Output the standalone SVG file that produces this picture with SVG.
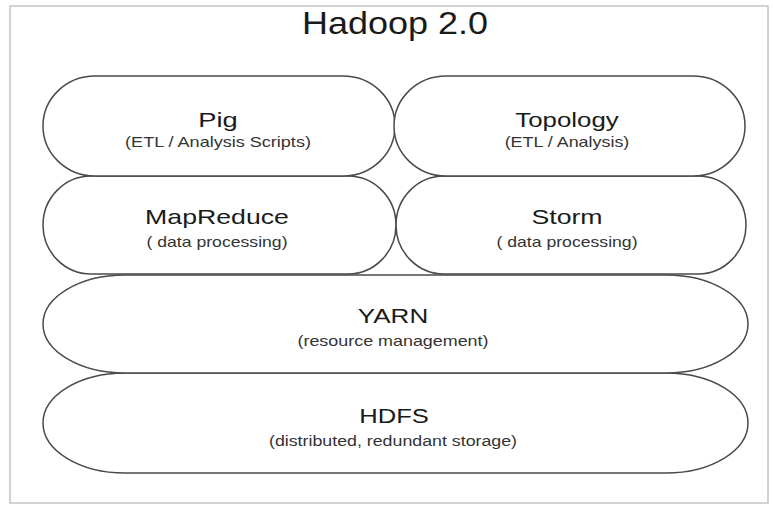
<svg xmlns="http://www.w3.org/2000/svg" width="773" height="506" viewBox="0 0 773 506">
<style>
.sh{fill:#fff;stroke:#4a4a4a;stroke-width:1.5}
.t{font-family:"Liberation Sans",Arial,sans-serif;fill:#1a1a1a;text-anchor:middle}
.m{font-size:21px}
.s{font-size:14px;fill:#333}
</style>
<rect width="773" height="506" fill="#fff"/>
<rect x="10" y="6" width="758" height="497" fill="#fff" stroke="#c4c4c4" stroke-width="1.5"/>
<text class="t" font-size="30.5" transform="translate(395,34) scale(1.18,1)">Hadoop 2.0</text>
<g id="connectors"/>
<g id="hdfs">
<rect class="sh" x="43" y="373" width="705" height="100" rx="82" ry="50"/>
<text class="t m" transform="translate(394,423) scale(1.22,1)">HDFS</text>
<text class="t s" transform="translate(393,446) scale(1.27,1)">(distributed, redundant storage)</text>
</g>
<g id="yarn">
<rect class="sh" x="43" y="275" width="705" height="98" rx="82" ry="49"/>
<text class="t m" transform="translate(393,323) scale(1.24,1)">YARN</text>
<text class="t s" transform="translate(393,346) scale(1.28,1)">(resource management)</text>
</g>
<g id="mapreduce">
<rect class="sh" x="43" y="176" width="353" height="98" rx="48" ry="49"/>
<text class="t m" transform="translate(217,224) scale(1.27,1)">MapReduce</text>
<text class="t s" transform="translate(217,247) scale(1.26,1)">( data processing)</text>
</g>
<g id="storm">
<rect class="sh" x="396" y="176" width="350" height="98" rx="48" ry="49"/>
<text class="t m" transform="translate(567,224) scale(1.27,1)">Storm</text>
<text class="t s" transform="translate(567,247) scale(1.26,1)">( data processing)</text>
</g>
<g id="pig">
<rect class="sh" x="43" y="76" width="352" height="100" rx="52" ry="50"/>
<text class="t m" transform="translate(218,127) scale(1.3,1)">Pig</text>
<text class="t s" transform="translate(218,147) scale(1.29,1)">(ETL / Analysis Scripts)</text>
</g>
<g id="topology">
<rect class="sh" x="394" y="76" width="351" height="100" rx="52" ry="50"/>
<text class="t m" transform="translate(567,127) scale(1.23,1)">Topology</text>
<text class="t s" transform="translate(567,147) scale(1.28,1)">(ETL / Analysis)</text>
</g>
</svg>
